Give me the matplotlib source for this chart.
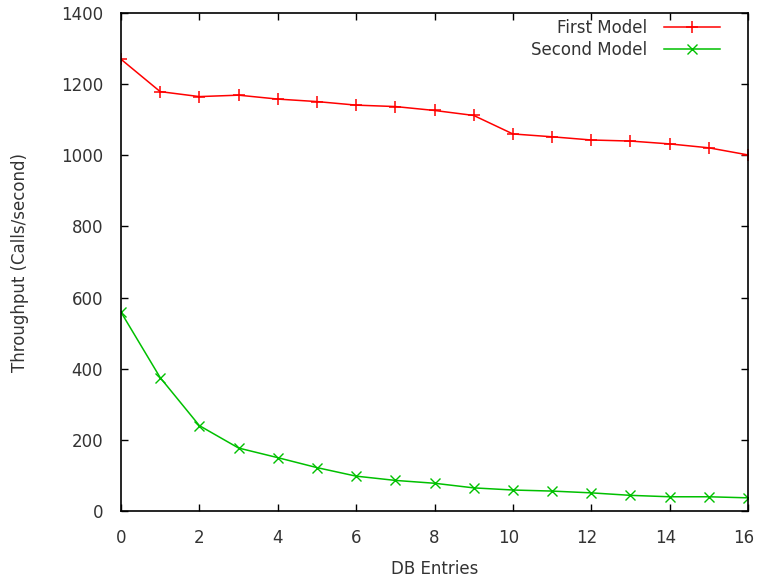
import matplotlib
matplotlib.use("Agg")
import matplotlib.pyplot as plt
from matplotlib.transforms import ScaledTranslation

db_entries = list(range(17))
first_model = [1270, 1179, 1165, 1169, 1158, 1151, 1141, 1137, 1126, 1112,
               1060, 1052, 1043, 1040, 1032, 1021, 1001]
second_model = [559, 375, 240, 177, 150, 122, 98, 86, 78, 65,
                59, 56, 51, 44, 40, 40, 37]
x_ticks = [0, 2, 4, 6, 8, 10, 12, 14, 16]
y_ticks = [0, 200, 400, 600, 800, 1000, 1200, 1400]

plt.rcParams['font.family'] = ['DejaVu Sans']
txt = '#333333'
fig = plt.figure(figsize=(7.57, 5.82), dpi=100)
ax = fig.add_axes([121/757, 71/582, 627/757, 498/582])

ax.plot(db_entries, first_model, color='#ff0000', lw=1.1, marker='+',
        ms=9, mew=1.1, label='First Model')
ax.plot(db_entries, second_model, color='#00c000', lw=1.1, marker='x',
        ms=7, mew=1.0, label='Second Model')

ax.set_xlim(0, 16)
ax.set_ylim(0, 1400)
ax.set_xticks(x_ticks)
ax.set_xticklabels([str(v) for v in x_ticks])
ax.set_yticks(y_ticks)
ax.tick_params(direction='in', length=5, width=1, top=True, right=True,
               labelsize=12, labelcolor=txt, pad=13)
for s in ax.spines.values():
    s.set_linewidth(1.2)

# gnuplot-style: two-digit tick labels sit slightly left of their ticks
for lab in ax.get_xticklabels():
    if len(lab.get_text()) >= 2:
        lab.set_transform(lab.get_transform() +
                          ScaledTranslation(-4 / 100, 0, fig.dpi_scale_trans))

ax.set_xlabel('DB Entries', fontsize=12, color=txt)
ax.set_ylabel('Throughput (Calls/second)', fontsize=12, color=txt)
ax.xaxis.set_label_coords(0.5, -0.0984)
ax.yaxis.set_label_coords(-0.1467, 0.5)

leg = ax.legend(loc='upper right', bbox_to_anchor=(0.9553, 0.9884),
                frameon=False, markerfirst=False, fontsize=12,
                handlelength=3.35, borderaxespad=0, borderpad=0,
                labelspacing=0.25, handletextpad=1.0)
for t in leg.get_texts():
    t.set_color(txt)

fig.savefig('out.png', dpi=100)
